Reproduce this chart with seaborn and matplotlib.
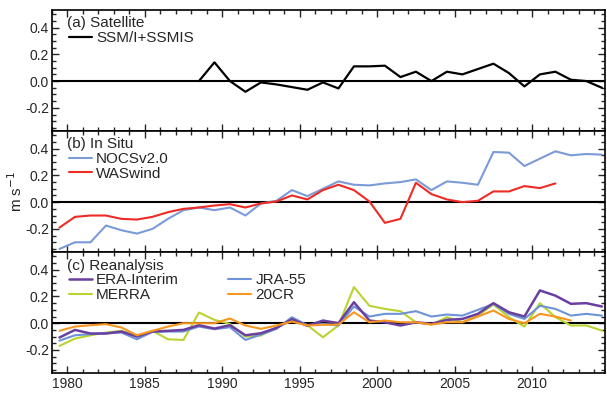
import numpy as np
import pandas as pd
import matplotlib
matplotlib.use('Agg')
import matplotlib.pyplot as plt
import seaborn as sns
from matplotlib.ticker import MultipleLocator, FormatStrFormatter

# annual mean wind speed anomalies (m s-1)
sat_years = np.arange(1988, 2015)
ssmi = [0.00, 0.14, 0.00, -0.08, -0.01, -0.025, -0.045, -0.065, -0.01, -0.055,
        0.11, 0.11, 0.115, 0.03, 0.07, 0.00, 0.07, 0.05, 0.09, 0.13,
        0.06, -0.04, 0.05, 0.07, 0.01, 0.00, -0.05]

nocs_years = np.arange(1979, 2015)
nocs = [-0.35, -0.30, -0.30, -0.175, -0.21, -0.235, -0.20, -0.125, -0.06, -0.04,
        -0.06, -0.04, -0.10, -0.01, 0.01, 0.09, 0.045, 0.10, 0.155, 0.13,
        0.125, 0.14, 0.15, 0.17, 0.09, 0.155, 0.145, 0.13, 0.375, 0.37,
        0.27, 0.325, 0.38, 0.35, 0.36, 0.355]

was_years = np.arange(1979, 2012)
waswind = [-0.19, -0.11, -0.10, -0.10, -0.125, -0.13, -0.11, -0.075, -0.05, -0.04,
           -0.025, -0.015, -0.04, -0.01, 0.005, 0.05, 0.02, 0.09, 0.13, 0.09,
           0.005, -0.155, -0.125, 0.145, 0.06, 0.02, 0.00, 0.01, 0.08, 0.08,
           0.12, 0.105, 0.14]

rean_years = np.arange(1979, 2015)
era = [-0.107, -0.05, -0.077, -0.077, -0.062, -0.10, -0.062, -0.057, -0.05, -0.015,
       -0.04, -0.015, -0.09, -0.075, -0.035, 0.03, -0.02, 0.02, 0.00, 0.157,
       0.02, 0.007, -0.017, 0.007, -0.005, 0.025, 0.032, 0.07, 0.15, 0.082,
       0.05, 0.245, 0.206, 0.145, 0.15, 0.125]
jra = [-0.13, -0.09, -0.082, -0.075, -0.07, -0.12, -0.065, -0.062, -0.062, -0.025,
       -0.045, -0.03, -0.125, -0.085, -0.042, 0.045, -0.015, -0.005, -0.017, 0.125,
       0.05, 0.07, 0.07, 0.09, 0.05, 0.065, 0.057, 0.10, 0.145, 0.07,
       0.032, 0.13, 0.107, 0.057, 0.07, 0.057]
merra = [-0.17, -0.115, -0.09, -0.07, -0.057, -0.095, -0.057, -0.12, -0.125, 0.08,
         0.025, -0.005, -0.10, -0.092, -0.03, 0.02, -0.015, -0.105, -0.017, 0.27,
         0.13, 0.107, 0.09, 0.007, -0.01, 0.045, 0.007, 0.057, 0.14, 0.045,
         -0.025, 0.15, 0.045, -0.017, -0.017, -0.055]
cr_years = np.arange(1979, 2013)
cr20 = [-0.057, -0.025, -0.015, -0.007, -0.032, -0.09, -0.057, -0.025, 0.00, 0.00,
        0.00, 0.035, -0.017, -0.042, -0.017, 0.012, -0.017, -0.012, -0.01, 0.082,
        0.007, 0.02, 0.007, 0.007, -0.01, 0.007, 0.007, 0.05, 0.095, 0.032,
        0.00, 0.07, 0.05, 0.02]

sns.set_style('ticks')
plt.rcParams['font.family'] = ['Liberation Sans', 'DejaVu Sans']

fig, axes = plt.subplots(3, 1, figsize=(6.07, 3.96), dpi=100, sharex=True)
fig.subplots_adjust(left=0.0852, right=0.9967, top=0.976, bottom=0.0588, hspace=0)

# plot annual means at mid-year
def draw(ax, years, vals, color, label, lw=1.5):
    sns.lineplot(x=np.asarray(years) + 0.5, y=vals, ax=ax, color=color,
                 lw=lw, label=label, legend=False)

draw(axes[0], sat_years, ssmi, 'black', 'SSM/I+SSMIS', lw=1.6)

draw(axes[1], nocs_years, nocs, '#7b9bd8', 'NOCSv2.0')
draw(axes[1], was_years, waswind, '#ee2b25', 'WASwind')

draw(axes[2], rean_years, merra, '#b8d430', 'MERRA')
draw(axes[2], rean_years, jra, '#6e93d6', 'JRA-55')
draw(axes[2], rean_years, era, '#6b3fa0', 'ERA-Interim', lw=1.8)
draw(axes[2], cr_years, cr20, '#f7961e', '20CR')

titles = ['(a) Satellite', '(b) In Situ', '(c) Reanalysis']
for ax, title in zip(axes, titles):
    ax.axhline(0, color='black', lw=1.5, zorder=1)
    ax.set_xlim(1979, 2014.7)
    ax.set_ylim(-0.37, 0.535)
    ax.yaxis.set_major_locator(MultipleLocator(0.2))
    ax.yaxis.set_minor_locator(MultipleLocator(0.05))
    ax.yaxis.set_major_formatter(FormatStrFormatter('%.1f'))
    ax.xaxis.set_major_locator(MultipleLocator(5))
    ax.xaxis.set_minor_locator(MultipleLocator(1))
    ax.tick_params(which='both', direction='in', top=True, right=True,
                   labelsize=10, pad=2, width=1)
    ax.tick_params(which='major', length=5)
    ax.tick_params(which='minor', length=3)
    for sp in ax.spines.values():
        sp.set_linewidth(1.2)
        sp.set_color('black')
    ax.text(0.028, 0.885, title, transform=ax.transAxes, fontsize=11,
            va='center', ha='left')

leg_kw = dict(loc='upper left', bbox_to_anchor=(0.028, 0.835), frameon=False,
              fontsize=11, handlelength=1.5, handletextpad=0.3,
              labelspacing=0.05, borderaxespad=0, borderpad=0.1)
axes[0].legend(**leg_kw)
axes[1].legend(**leg_kw)

h, l = axes[2].get_legend_handles_labels()
hd = dict(zip(l, h))
order = ['ERA-Interim', 'MERRA', 'JRA-55', '20CR']
axes[2].legend([hd[k] for k in order], order, ncol=2, columnspacing=3.2, **leg_kw)

axes[1].set_ylabel('m s$^{-1}$', fontsize=11, labelpad=0)
axes[2].tick_params(axis='x', pad=3)

fig.savefig('out.png', dpi=100)
